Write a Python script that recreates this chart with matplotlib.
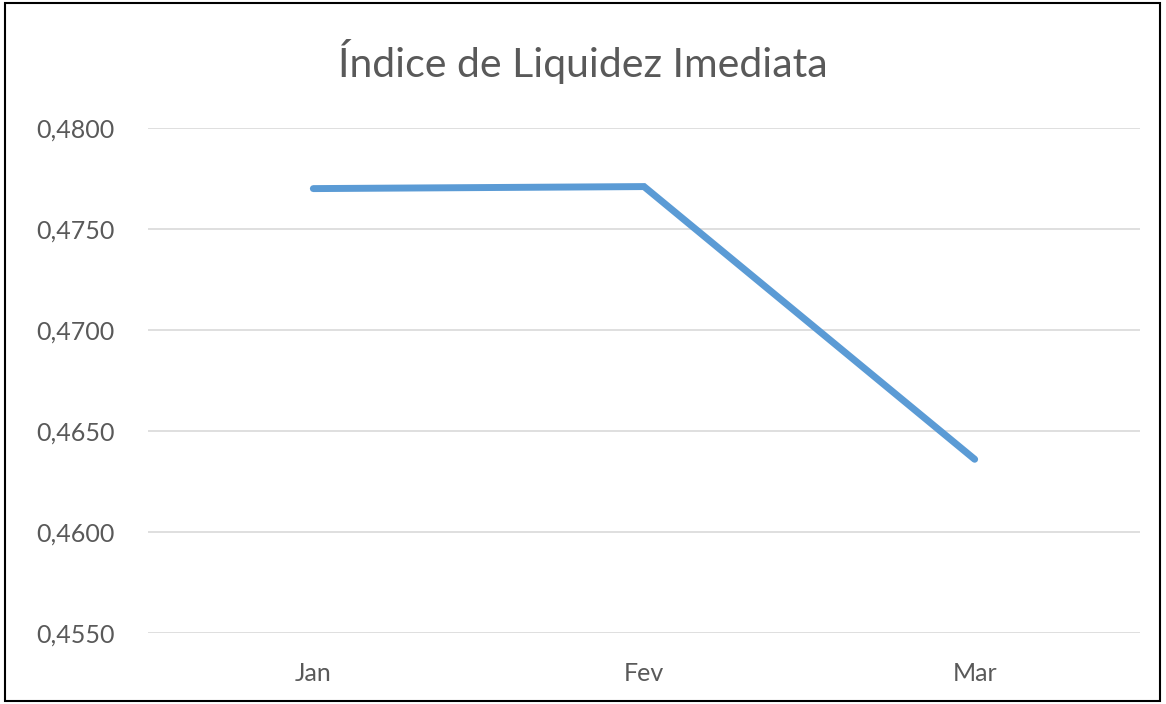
import matplotlib.pyplot as plt
from matplotlib.patches import Rectangle
from matplotlib.ticker import FuncFormatter

categories = ["Jan", "Fev", "Mar"]
values = [0.4770, 0.4771, 0.4636]
yticks = [0.4550, 0.4600, 0.4650, 0.4700, 0.4750, 0.4800]
title = "Índice de Liquidez Imediata"

plt.rcParams['font.family'] = ['Lato', 'DejaVu Sans']

fig = plt.figure(figsize=(11.66, 7.04), dpi=100)
ax = fig.add_axes([148/1166, 1-633/704, (1140-148)/1166, (633-128)/704])

x = list(range(len(categories)))
ax.plot(x, values, color="#5B9BD5", linewidth=5, solid_capstyle="round", solid_joinstyle="miter", zorder=3)

ax.set_xlim(-0.5, len(categories) - 0.5)
ax.set_ylim(yticks[0], yticks[-1])
ax.set_yticks(yticks)
ax.yaxis.set_major_formatter(FuncFormatter(lambda v, p: f"{v:.4f}".replace(".", ",")))
ax.set_xticks(x)
ax.set_xticklabels(categories)
ax.grid(axis="y", color="#D9D9D9", linewidth=1.2, zorder=0)
ax.set_axisbelow(True)
for s in ax.spines.values():
    s.set_visible(False)
ax.tick_params(axis="both", length=0, colors="#595959", labelsize=18)
ax.tick_params(axis="y", pad=24)
ax.tick_params(axis="x", pad=21)

fig.text(583/1166, 1-62/704, title, ha="center", va="center", fontsize=29.5, color="#595959")

fig.patches.append(Rectangle((5/1166, 3/704), 1155/1166, 698/704, transform=fig.transFigure,
                             fill=False, edgecolor="black", linewidth=1.5))

fig.savefig("out.png", dpi=100)
